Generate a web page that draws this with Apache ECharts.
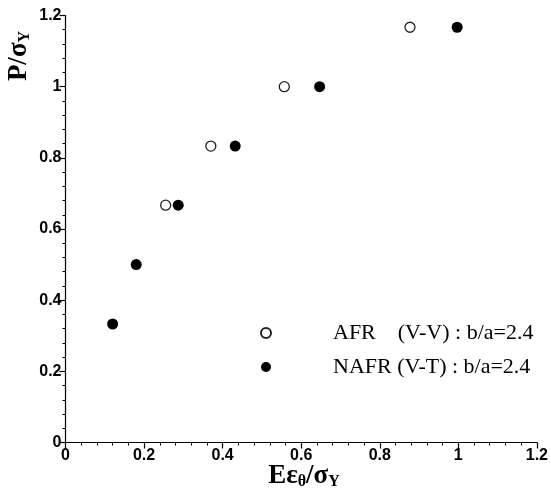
<!DOCTYPE html>
<html>
<head>
<meta charset="utf-8">
<script src="https://cdn.jsdelivr.net/npm/echarts@6/dist/echarts.min.js"></script>
<style>
  html, body { margin: 0; padding: 0; background: #fff; }
  #main { width: 551px; height: 497px; }
</style>
</head>
<body>
<div id="main"></div>
<script>
// AFR (V-V) open circles
const afrX = [0.255, 0.37, 0.557, 0.877];
const afrY = [0.667, 0.833, 1.0, 1.167];
// NAFR (V-T) filled circles
const nafrX = [0.12, 0.18, 0.287, 0.432, 0.647, 0.997];
const nafrY = [0.333, 0.5, 0.667, 0.833, 1.0, 1.167];
const seriesNames = ['AFR    (V-V) : b/a=2.4', 'NAFR (V-T) : b/a=2.4'];

function pairs(xs, ys) {
  let out = [];
  for (let i = 0; i < xs.length; i++) {
    out.push([xs[i], ys[i]]);
  }
  return out;
}

const tickFont = { color: '#000', fontFamily: 'Liberation Sans', fontWeight: 'bold', fontSize: 16 };
const axisCommon = {
  type: 'value',
  min: 0,
  max: 1.2,
  interval: 0.2,
  splitLine: { show: false },
  axisLine: { show: true, lineStyle: { color: '#000', width: 1.2 } },
  axisTick: { show: true, inside: false, length: 6, lineStyle: { color: '#000', width: 1.2 } },
  minorTick: { show: true, splitNumber: 5, length: 3, lineStyle: { color: '#000', width: 1 } },
};

const myChart = echarts.init(document.getElementById('main'));
const option = {
  animation: false,
  backgroundColor: '#fff',
  grid: { left: 65.5, right: 12, top: 15.5, bottom: 54.5 },
  xAxis: Object.assign({}, axisCommon, {
    axisLabel: Object.assign({ margin: 5 }, tickFont),
  }),
  yAxis: Object.assign({}, axisCommon, {
    axisLabel: Object.assign({ margin: 4 }, tickFont),
  }),
  legend: {
    orient: 'vertical',
    left: 255,
    top: 317,
    itemWidth: 10,
    itemHeight: 10,
    itemGap: 12,
    data: [
      { name: seriesNames[0], icon: 'circle' },
      { name: seriesNames[1], icon: 'circle' },
    ],
    formatter: function (name) {
      return '{g|}{t|' + name + '}';
    },
    textStyle: {
      rich: {
        g: { width: 57 },
        t: { fontFamily: 'Liberation Serif', fontSize: 22, color: '#000', lineHeight: 22 },
      },
    },
  },
  series: [
    {
      name: seriesNames[0],
      type: 'scatter',
      data: pairs(afrX, afrY),
      symbol: 'circle',
      symbolSize: 10,
      itemStyle: { color: '#fff', borderColor: '#222', borderWidth: 1.3, opacity: 1 },
    },
    {
      name: seriesNames[1],
      type: 'scatter',
      data: pairs(nafrX, nafrY),
      symbol: 'circle',
      symbolSize: 11,
      itemStyle: { color: '#000', opacity: 1 },
    },
  ],
  graphic: [
    {
      type: 'text',
      x: 304,
      y: 476,
      style: {
        text: '{m|Eε}{s|θ}{m|/σ}{s|Y}',
        align: 'center',
        verticalAlign: 'middle',
        rich: {
          m: { fontFamily: 'Liberation Serif', fontWeight: 'bold', fontSize: 27, color: '#000', lineHeight: 30 },
          s: { fontFamily: 'Liberation Serif', fontWeight: 'bold', fontSize: 16, color: '#000', lineHeight: 30, padding: [12, 0, 0, 0] },
        },
      },
    },
    {
      type: 'text',
      x: 19,
      y: 56,
      rotation: Math.PI / 2,
      style: {
        text: '{m|P/σ}{s|Y}',
        align: 'center',
        verticalAlign: 'middle',
        rich: {
          m: { fontFamily: 'Liberation Serif', fontWeight: 'bold', fontSize: 27, color: '#000', lineHeight: 30 },
          s: { fontFamily: 'Liberation Serif', fontWeight: 'bold', fontSize: 16, color: '#000', lineHeight: 30, padding: [12, 0, 0, 0] },
        },
      },
    },
  ],
};
myChart.setOption(option);
</script>
</body>
</html>
